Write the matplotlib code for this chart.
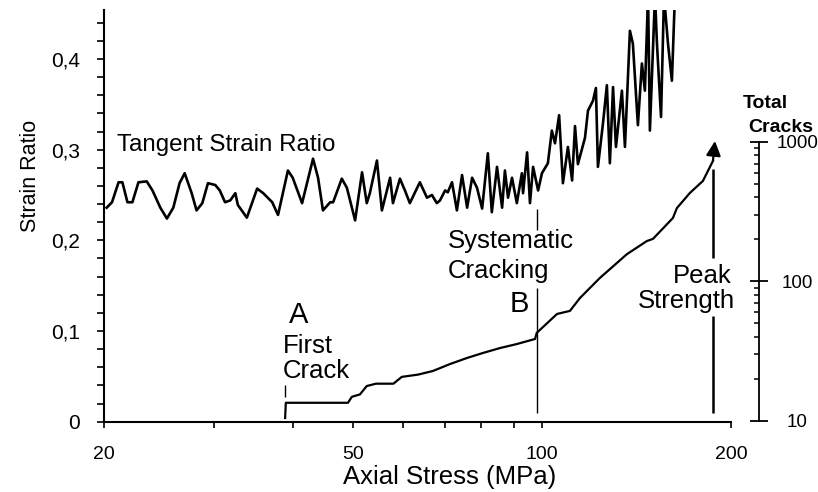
import matplotlib.pyplot as plt
from matplotlib.ticker import FixedLocator, NullFormatter

plt.rcParams['font.family'] = ['Liberation Sans', 'DejaVu Sans']

# Tangent strain ratio vs axial stress (MPa)
strain_x = [20.2, 20.6, 21.1, 21.4, 21.8, 22.2, 22.7, 23.4, 23.9, 24.6,
            25.2, 25.8, 26.4, 26.9, 27.6, 28.1, 28.7, 29.3, 30.1, 30.6,
            31.2, 31.8, 32.4, 32.7, 33.8, 35.1, 35.9, 37.1, 37.9, 39.3,
            40.0, 41.4, 43.1, 43.9, 44.7, 45.9, 46.4, 47.9, 48.8, 50.3,
            51.6, 52.5, 53.1, 54.5, 55.5, 57.2, 57.8, 59.3, 60.4, 61.5,
            63.8, 65.5, 66.7, 67.9, 68.7, 70.0, 70.7, 71.8, 73.1, 74.5,
            75.9, 77.3, 78.7, 80.2, 81.9, 83.1, 84.7, 86.3, 87.2, 88.2,
            89.5, 91.1, 92.8, 93.2, 94.6, 95.6, 96.7, 98.5, 99.9, 102.1,
            103.6, 104.8, 106.4, 107.9, 109.9, 111.6, 112.8, 114.0, 117.0, 118.3,
            120.5, 121.8, 122.7, 125.0, 126.8, 128.2, 129.7, 131.1, 134.0, 135.5,
            138.0, 139.5, 142.1, 144.2, 145.8, 147.5, 148.5, 151.3, 152.4, 154.7,
            156.4, 158.7, 161.0, 162.8]
strain_y = [0.236, 0.242, 0.264, 0.264, 0.242, 0.242, 0.264, 0.265, 0.255, 0.236,
            0.224, 0.236, 0.263, 0.274, 0.252, 0.233, 0.241, 0.263, 0.261, 0.255,
            0.242, 0.244, 0.252, 0.239, 0.225, 0.257, 0.252, 0.242, 0.228, 0.277,
            0.269, 0.241, 0.290, 0.269, 0.233, 0.242, 0.242, 0.268, 0.258, 0.222,
            0.275, 0.241, 0.252, 0.288, 0.233, 0.269, 0.241, 0.268, 0.255, 0.241,
            0.264, 0.247, 0.250, 0.241, 0.244, 0.255, 0.253, 0.264, 0.233, 0.272,
            0.236, 0.269, 0.258, 0.235, 0.296, 0.231, 0.281, 0.236, 0.277, 0.247,
            0.269, 0.241, 0.274, 0.252, 0.297, 0.241, 0.281, 0.255, 0.274, 0.285,
            0.321, 0.307, 0.338, 0.263, 0.303, 0.266, 0.326, 0.284, 0.313, 0.343,
            0.354, 0.368, 0.281, 0.329, 0.371, 0.285, 0.369, 0.303, 0.365, 0.303,
            0.431, 0.417, 0.327, 0.395, 0.365, 0.470, 0.321, 0.470, 0.417, 0.336,
            0.470, 0.417, 0.376, 0.470]

# Cumulative crack count (right axis, log)
crack_x = [38.9, 39.0, 49.0, 49.7, 51.2, 52.5, 54.3, 57.9, 59.7, 63.4,
           66.9, 71.3, 75.9, 80.4, 85.6, 91.1, 97.4, 98.0, 105.6, 110.7,
           114.9, 123.6, 136.5, 146.9, 150.2, 161.6, 164.0, 172.0, 180.4, 187.2,
           188.6]
crack_n = [10.5, 13.5, 13.5, 14.9, 15.5, 17.8, 18.5, 18.5, 20.7, 21.5,
           22.8, 25.6, 28.3, 30.7, 33.3, 35.6, 38.7, 42.8, 58.5, 61.5,
           76.2, 106, 157, 195, 202, 285, 336, 431, 525, 731,
           1016]

# Stress levels of the marked events
first_crack = 38.9
systematic = 98.0
peak = 187.2

x_major = [20, 50, 100, 200]
x_minor = [30, 40, 60, 70, 80, 90]
y_major = [0, 0.1, 0.2, 0.3, 0.4]
y_labels = ['0', '0,1', '0,2', '0,3', '0,4']
y_minor = [0.02, 0.04, 0.06, 0.08, 0.12, 0.14, 0.16, 0.18, 0.22, 0.24,
           0.26, 0.28, 0.32, 0.34, 0.36, 0.38, 0.42, 0.44]
n_major = [10, 100, 1000]
n_minor = [20, 30, 40, 50, 60, 70, 80, 90, 200, 300, 400, 500, 600, 700, 800, 900]

fig = plt.figure(figsize=(8.18, 4.92), dpi=100)
ax1 = fig.add_axes([0.1271, 0.1429, 0.7665, 0.8368])

ax1.plot(strain_x, strain_y, color='black', lw=1.9, solid_joinstyle='round')
ax1.set_xscale('log')
ax1.set_xlim(20, 200)
ax1.set_ylim(0, 0.454)

for s in ['top', 'right']:
    ax1.spines[s].set_visible(False)
for s in ['left', 'bottom']:
    ax1.spines[s].set_linewidth(1.5)

ax1.xaxis.set_major_locator(FixedLocator(x_major))
ax1.xaxis.set_minor_locator(FixedLocator(x_minor))
ax1.xaxis.set_minor_formatter(NullFormatter())
ax1.set_xticklabels([str(v) for v in x_major])
ax1.yaxis.set_major_locator(FixedLocator(y_major))
ax1.yaxis.set_minor_locator(FixedLocator(y_minor))
ax1.set_yticklabels(y_labels)
ax1.tick_params(axis='x', which='both', direction='out', length=4.5, width=1.2)
ax1.tick_params(axis='x', which='major', labelsize=14, pad=13)
ax1.tick_params(axis='y', which='both', direction='out', length=5, width=1.2)
ax1.tick_params(axis='y', which='major', labelsize=15, pad=12)

# marker lines
ax1.vlines(first_crack, 0.027, 0.040, color='black', lw=1.0)
ax1.vlines([systematic, systematic], [0.0096, 0.211], [0.147, 0.235], color='black', lw=1.0)
ax1.vlines([peak, peak], [0.0096, 0.181], [0.117, 0.279], color='black', lw=1.8)

# crack count on a second, offset log axis
ax2 = ax1.twinx()
ax2.set_yscale('log')
ax2.set_ylim(9.88, 8830)
ax2.plot(crack_x[:-1], crack_n[:-1], color='black', lw=1.6)
ax2.annotate('', xy=(crack_x[-1], crack_n[-1]), xytext=(crack_x[-2], crack_n[-2]),
             arrowprops=dict(arrowstyle='-|>', color='black', lw=1.6,
                             mutation_scale=22, shrinkA=0, shrinkB=0))
for s in ['top', 'left', 'bottom']:
    ax2.spines[s].set_visible(False)
ax2.spines['right'].set_position(('outward', 20.2))
ax2.spines['right'].set_bounds(10, 1000)
ax2.spines['right'].set_linewidth(1.3)
ax2.yaxis.set_major_locator(FixedLocator(n_major))
ax2.yaxis.set_minor_locator(FixedLocator(n_minor))
ax2.yaxis.set_minor_formatter(NullFormatter())
ax2.set_yticklabels([str(v) for v in n_major])
ax2.tick_params(axis='y', which='major', direction='inout', length=13, width=1.3,
                pad=21, labelsize=13.5)
ax2.tick_params(axis='y', which='minor', direction='in', length=3.5, width=1.1)
for t in ax2.yaxis.get_major_ticks():
    t.label2.set_horizontalalignment('center')

# labels
ax1.text(21.0, 0.299, 'Tangent Strain Ratio', fontsize=17.4, va='baseline')
ax1.text(40.9, 0.109, 'A', fontsize=21, ha='center', va='baseline')
ax1.text(38.6, 0.0757, 'First', fontsize=18.5, va='baseline')
ax1.text(38.6, 0.048, 'Crack', fontsize=18.5, va='baseline')
ax1.text(70.7, 0.191, 'Systematic', fontsize=18.5, va='baseline')
ax1.text(70.7, 0.159, 'Cracking', fontsize=18.5, va='baseline')
ax1.text(91.8, 0.121, 'B', fontsize=21, ha='center', va='baseline')
ax1.text(200.7, 0.1527, 'Peak', fontsize=18.5, ha='right', va='baseline', clip_on=False)
ax1.text(203, 0.125, 'Strength', fontsize=18.5, ha='right', va='baseline', clip_on=False)

fig.text(743 / 818, 1 - 108 / 492, 'Total', fontsize=14, fontweight='bold', va='baseline')
fig.text(748 / 818, 1 - 132 / 492, 'Cracks', fontsize=14, fontweight='bold', va='baseline')
fig.text(450 / 818, 1 - 484 / 492, 'Axial Stress (MPa)', fontsize=18.5, ha='center', va='baseline')
fig.text(30 / 818, 1 - 176 / 492, 'Strain Ratio', fontsize=15.5, rotation=90,
         ha='center', va='center')

fig.savefig('out.png', dpi=100)
